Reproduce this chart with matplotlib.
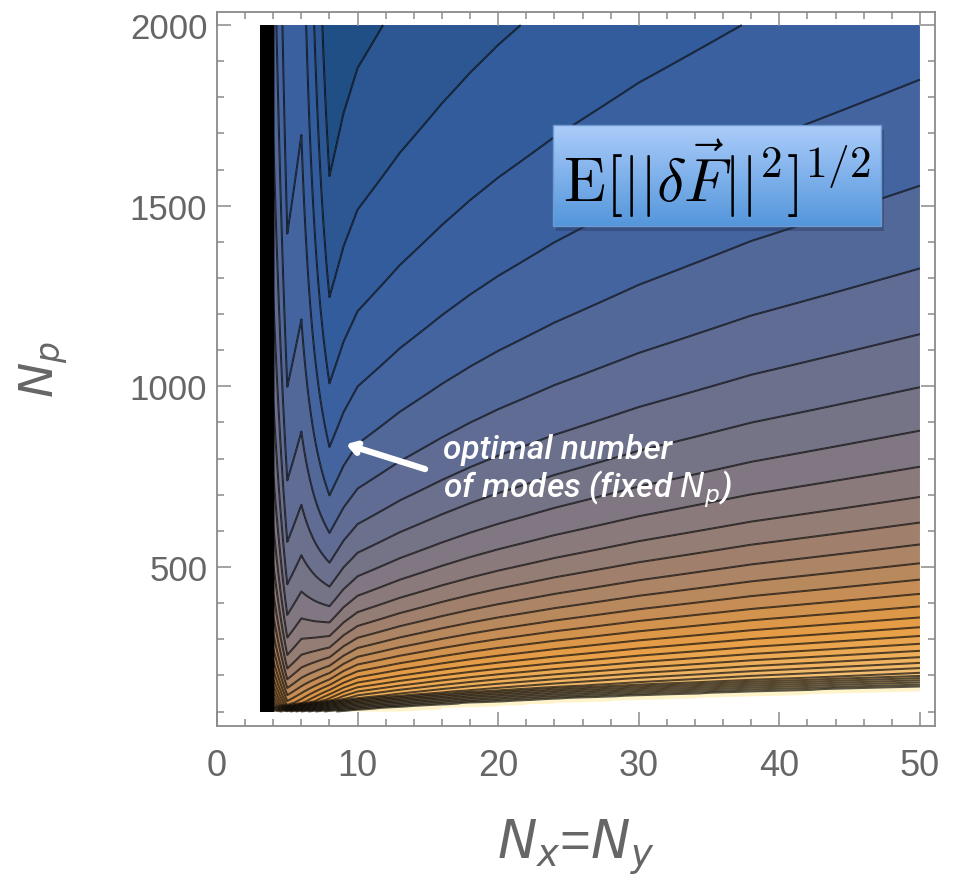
import numpy as np
import matplotlib
matplotlib.use("Agg")
import matplotlib.pyplot as plt
from matplotlib import font_manager as fm
from matplotlib.colors import LinearSegmentedColormap, Normalize
from matplotlib.patches import Rectangle

# ---------------- data ----------------
# columns of the sampled field: number of modes N_x = N_y
modes = [3.13, 4, 5, 6, 7, 8, 9, 10, 11, 12, 13, 14, 15, 16, 18, 20,
         22, 24, 26, 28, 30, 32, 34, 36, 38, 40, 42, 44, 46, 48, 50]
bias = [300, 7.0, 5.9, 5.97, 3.06, 0.15, 0.075, 0, 0, 0, 0, 0, 0, 0, 0, 0,
        0, 0, 0, 0, 0, 0, 0, 0, 0, 0, 0, 0, 0, 0, 0]
noise = [0, 250, 195, 210, 262, 315, 335, 350, 356, 362, 368, 373, 378, 383, 392, 400,
         407, 414, 420, 426, 432, 437, 442, 447, 452, 456, 460, 464, 468, 472, 476]
# lower edge of the region where the estimate exists (white below)
np_floor = [62, 67, 72, 77, 81, 85, 88, 91, 94, 97, 99, 102, 104, 106, 111, 114,
            118, 122, 125, 128, 131, 134, 136, 139, 142, 144, 146, 149, 151, 153, 155]
pale_width = 14      # N_p span above the floor that is beyond the top contour
steep_width = 33     # N_p span of the steep rise (densely packed contours)
first_level, level_step, last_level = 8.07, 1.0, 39.07

x_ticks = [0, 10, 20, 30, 40, 50]
y_ticks = [500, 1000, 1500, 2000]

# ---------------- field ----------------
Np = np.arange(100, 2001, 2.0)
M = np.array(modes, float)
B = np.array(bias, float)
K = np.array(noise, float)
F = np.array(np_floor, float)
X, Y = np.meshgrid(M, Np)
Z = B[None, :] + K[None, :] / np.sqrt(Y)
Fl = F[None, :] + 0 * Y
top_steep = Fl + pale_width + steep_width
Etop = B[None, :] + K[None, :] / np.sqrt(top_steep)
frac = np.clip((top_steep - Y) / steep_width, 0, 1)
ramp = Etop + (last_level - 0.07 - Etop) * frac
in_steep = (Y < top_steep) & (Y >= Fl + pale_width)
Z = np.where(in_steep, np.maximum(Z, ramp), Z)
in_pale = Y < Fl + pale_width
Z = np.where(in_pale, np.maximum(Z, last_level + 0.43), Z)
Z = np.ma.masked_where(Y < Fl, Z)

levels = np.arange(first_level, last_level + 0.5, level_step)
line_levels = np.arange(first_level, 300, level_step)

stops = [(7.0, (28, 76, 128)), (8.6, (45, 88, 148)), (10, (52, 94, 160)),
         (11.5, (68, 100, 160)), (13, (90, 106, 150)), (15, (112, 114, 138)),
         (17, (132, 120, 128)), (19, (152, 126, 114)), (21, (178, 134, 98)),
         (23, (204, 144, 82)), (25, (225, 153, 70)), (27, (234, 162, 74)),
         (30, (239, 177, 94)), (34, (245, 198, 125)), (38, (250, 218, 155)),
         (39.5, (252, 228, 170))]
vmin, vmax = stops[0][0], stops[-1][0]
cmap = LinearSegmentedColormap.from_list(
    "grad", [((v - vmin) / (vmax - vmin), tuple(c / 255 for c in col)) for v, col in stops])
norm = Normalize(vmin, vmax)
mids = np.concatenate([[7.5], (levels[:-1] + levels[1:]) / 2])
band_colors = [cmap(norm(m)) for m in mids] + [(1.0, 0.953, 0.79)]
fill_levels = np.concatenate([[-1e3], levels, [1e4]])

# ---------------- figure ----------------
names = {f.name for f in fm.fontManager.ttflist}
narrow = "Liberation Sans Narrow" in names
xfont = "Liberation Sans Narrow" if narrow else "Liberation Sans"

fig = plt.figure(figsize=(9.62, 8.87), dpi=100)
ax = fig.add_axes([0.22557, 0.18038, 0.74636, 0.80496])
ax.set_autoscale_on(False)
ax.contourf(X, Y, Z, levels=fill_levels, colors=band_colors, antialiased=True)
ax.contour(X, Y, Z, levels=line_levels, colors="black", linewidths=1.45, alpha=0.66)

gray = "#666666"
for s in ax.spines.values():
    s.set_color("#8a8a8a")
    s.set_linewidth(1.3)
ax.set_xticks(x_ticks)
ax.set_yticks(y_ticks)
ax.set_xticks(np.arange(0, 51, 2), minor=True)
ax.set_yticks(np.arange(100, 2001, 100), minor=True)
ax.tick_params(which="both", direction="in", top=True, right=True, color="#8a8a8a", width=1.1)
ax.tick_params(which="major", length=10)
ax.tick_params(which="minor", length=5)
ax.tick_params(axis="x", labelsize=30 if narrow else 26, labelcolor=gray, pad=16)
ax.tick_params(axis="y", labelsize=25, labelcolor=gray, pad=7)
for t in ax.get_xticklabels():
    t.set_family([xfont, "DejaVu Sans"])
for t in ax.get_yticklabels():
    t.set_family(["Liberation Sans", "DejaVu Sans"])

plt.rcParams["mathtext.fontset"] = "custom"
plt.rcParams["mathtext.it"] = xfont + ":italic"
plt.rcParams["mathtext.rm"] = xfont

ax.set_xlabel(r"$N_x$=$N_y$", fontsize=42 if narrow else 38, color=gray,
              family=[xfont, "DejaVu Sans"])
ax.xaxis.set_label_coords(0.50, -0.128)
ylab = ax.set_ylabel(r"$N_p$", fontsize=34, color=gray, family=["Liberation Sans", "DejaVu Sans"])
ylab.set_math_fontfamily("dejavusans")
ax.yaxis.set_label_coords(-0.205, 0.5)

# label box
bx0, bx1, by0, by1 = 0.468, 0.925, 0.7007, 0.8417
ax.add_patch(Rectangle((bx0 + 0.004, by0 - 0.007), bx1 - bx0, by1 - by0, transform=ax.transAxes,
                       facecolor="#203050", alpha=0.35, edgecolor="none", zorder=5))
box_cmap = LinearSegmentedColormap.from_list("box", [(0.67, 0.80, 0.98), (0.33, 0.59, 0.86)])
ax.imshow(np.linspace(0, 1, 100)[:, None], extent=(bx0, bx1, by0, by1), transform=ax.transAxes,
          cmap=box_cmap, aspect="auto", origin="upper", zorder=6)
ax.add_patch(Rectangle((bx0, by0), bx1 - bx0, by1 - by0, transform=ax.transAxes,
                       facecolor="none", edgecolor="#6f9ad0", lw=1.0, zorder=6.5))
ax.text((bx0 + bx1) / 2, (by0 + by1) / 2 - 0.004, r"$\mathrm{E}[||\delta\vec{F}||^2]^{1/2}$",
        transform=ax.transAxes, ha="center", va="center", fontsize=44.5, math_fontfamily="cm",
        color="black", zorder=7)

# annotation
ax.annotate("", xy=(9.17, 840), xytext=(14.8, 771),
            arrowprops=dict(arrowstyle="->,head_length=0.55,head_width=0.35", color="white",
                            lw=4.5, shrinkA=0, shrinkB=0), zorder=8)
ann = ax.text(16.07, 872, "optimal number\nof modes (fixed $N_p$)", color="white", fontsize=24,
              family=["Roboto", "DejaVu Sans"], style="italic", weight="medium", ha="left", va="top",
              linespacing=1.1, zorder=8)
ann.set_math_fontfamily("dejavusans")
ax.set_xlim(0, 51.07)
ax.set_ylim(60, 2036)

fig.savefig("out.png", dpi=100, facecolor="white")
